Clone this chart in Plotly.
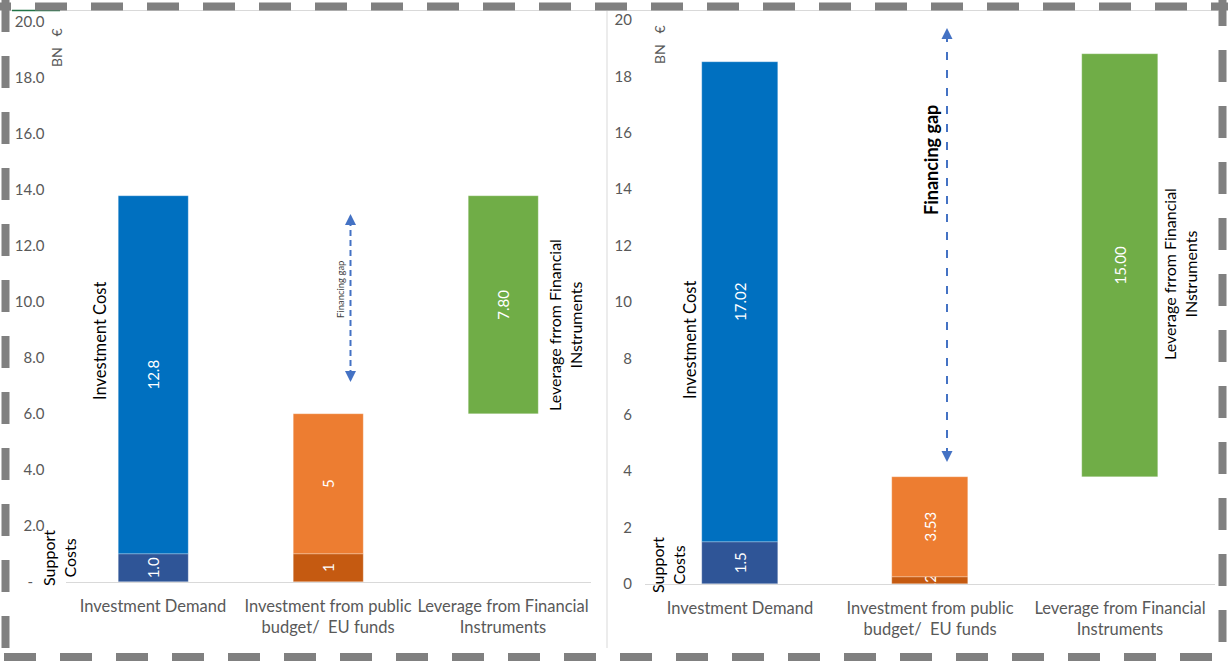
import plotly.graph_objects as go

W, H = 1228, 662

# ---------------- data ----------------
categories = ["Investment Demand", "Investment from public<br>budget/  EU funds", "Leverage from Financial<br>Instruments"]

# left chart
left_support = [1.0, 1.0]            # Investment Demand, public budget (lower segment)
left_support_text = ["1.0", "1"]
left_main = [12.8, 5.0, 7.8]         # investment cost, public budget, leverage
left_main_text = ["12.8", "5", "7.80"]

# right chart
right_support = [1.5, 0.25]
right_support_text = ["1.5", "0.25"]
right_main = [17.02, 3.53, 15.00]
right_main_text = ["17.02", "3.53", "15.00"]

left_ticks = [0, 2, 4, 6, 8, 10, 12, 14, 16, 18, 20]
left_ticktext = ["-\u00a0\u00a0\u00a0", "2.0", "4.0", "6.0", "8.0", "10.0", "12.0", "14.0", "16.0", "18.0", "20.0"]
right_ticks = [0, 2, 4, 6, 8, 10, 12, 14, 16, 18, 20]
right_ticktext = ["0", "2", "4", "6", "8", "10", "12", "14", "16", "18", "20"]

dark_colors = ["#2F5597", "#C55A11"]
main_colors = ["#0070C0", "#ED7D31", "#70AD47"]

FONT = "Lato"
GRAY = "#595959"


def px(x):
    return x / W


def py(y):
    return 1 - y / H


def bases_for(support, main):
    # upper segments sit on lower ones; leverage floats on public total
    return [support[0], support[1], support[1] + main[1]]


fig = go.Figure()

for (sup, sup_txt, main, main_txt, xa, ya) in [
    (left_support, left_support_text, left_main, left_main_text, "x", "y"),
    (right_support, right_support_text, right_main, right_main_text, "x2", "y2"),
]:
    fig.add_trace(go.Bar(
        x=categories[:2], y=sup, base=[0, 0], text=sup_txt,
        marker=dict(color=dark_colors, line=dict(color="rgba(255,255,255,0.5)", width=0.5)),
        width=0.4, textposition="inside", insidetextanchor="middle", textangle=-90,
        constraintext="none", cliponaxis=True,
        textfont=dict(color="white", size=15, family=FONT),
        xaxis=xa, yaxis=ya, showlegend=False, hoverinfo="skip",
    ))
    fig.add_trace(go.Bar(
        x=categories, y=main, base=bases_for(sup, main), text=main_txt,
        marker=dict(color=main_colors, line=dict(color="rgba(255,255,255,0.5)", width=0.5)),
        width=0.4, textposition="inside", insidetextanchor="middle", textangle=-90,
        constraintext="none", cliponaxis=True,
        textfont=dict(color="white", size=15, family=FONT),
        xaxis=xa, yaxis=ya, showlegend=False, hoverinfo="skip",
    ))

xcommon = dict(type="category", showgrid=False, zeroline=False, showline=True,
               linecolor="#D9D9D9", linewidth=1, ticks="", automargin=False,
               tickfont=dict(family=FONT, size=16.5, color=GRAY), ticklabelstandoff=9,
               range=[-0.5, 2.5], fixedrange=True)
ycommon = dict(range=[0, 20], showgrid=False, zeroline=False, showline=False, ticks="",
               automargin=False,
               tickfont=dict(family=FONT, size=15, color=GRAY), fixedrange=True)

fig.update_layout(
    width=W, height=H, autosize=False, margin=dict(l=0, r=0, t=0, b=0, pad=0, autoexpand=False),
    paper_bgcolor="white", plot_bgcolor="white",
    barmode="overlay", bargap=0,
    xaxis=dict(domain=[px(65.5), px(590.5)], anchor="y", **xcommon),
    yaxis=dict(domain=[py(582), py(22)], anchor="x", tickvals=left_ticks, ticktext=left_ticktext,
               ticklabelstandoff=20, **ycommon),
    xaxis2=dict(domain=[px(645), px(1215)], anchor="y2", **xcommon),
    yaxis2=dict(domain=[py(584), py(20)], anchor="x2", tickvals=right_ticks, ticktext=right_ticktext,
                ticklabelstandoff=12, **ycommon),
)

shapes = []
# thin chart-area borders
shapes.append(dict(type="line", xref="paper", yref="paper", x0=px(9), x1=px(1218), y0=py(10.5), y1=py(10.5),
                   line=dict(color="#D9D9D9", width=1)))
shapes.append(dict(type="line", xref="paper", yref="paper", x0=px(607), x1=px(607), y0=py(10.5), y1=py(648),
                   line=dict(color="#D9D9D9", width=1)))
shapes.append(dict(type="line", xref="paper", yref="paper", x0=px(12), x1=px(60), y0=py(10.5), y1=py(10.5),
                   line=dict(color="#217346", width=1.5)))
# outer dashed border
dash = "32px,24px"
bc = "#808080"
shapes.append(dict(type="line", xref="paper", yref="paper", x0=px(-21), x1=px(1240), y0=py(6.5), y1=py(6.5),
                   line=dict(color=bc, width=8, dash=dash)))
shapes.append(dict(type="line", xref="paper", yref="paper", x0=px(5.5), x1=px(5.5), y0=py(0), y1=py(670),
                   line=dict(color=bc, width=8, dash=dash)))
shapes.append(dict(type="line", xref="paper", yref="paper", x0=px(4), x1=px(1240), y0=py(657), y1=py(657),
                   line=dict(color=bc, width=8, dash=dash)))
shapes.append(dict(type="line", xref="paper", yref="paper", x0=px(1222.5), x1=px(1222.5), y0=py(-6), y1=py(650),
                   line=dict(color=bc, width=8, dash=dash)))
# financing gap arrows (dashed lines)
ARROW = "#4472C4"
shapes.append(dict(type="line", xref="paper", yref="paper", x0=px(350.5), x1=px(350.5), y0=py(220), y1=py(376),
                   line=dict(color=ARROW, width=2, dash="6px,4px")))
shapes.append(dict(type="line", xref="paper", yref="paper", x0=px(947), x1=px(947), y0=py(34), y1=py(456),
                   line=dict(color=ARROW, width=2, dash="8px,10px")))
fig.update_layout(shapes=shapes)

ann = []


def arrowhead(x, y, up):
    ann.append(dict(xref="paper", yref="paper", x=px(x), y=py(y), ax=0, ay=(12 if up else -12),
                    axref="pixel", ayref="pixel", text="", showarrow=True, arrowhead=2,
                    arrowsize=1.1, arrowwidth=2, arrowcolor=ARROW))


arrowhead(350.5, 214, True)
arrowhead(350.5, 382, False)
arrowhead(947, 28, True)
arrowhead(947, 462, False)


def label(text, x, y, size=15, color="black", angle=-90, bold=False):
    t = f"<b>{text}</b>" if bold else text
    ann.append(dict(xref="paper", yref="paper", x=px(x), y=py(y), text=t, showarrow=False,
                    textangle=angle, xanchor="center", yanchor="middle",
                    font=dict(family=FONT, size=size, color=color)))


# left chart labels
label("BN\u00a0\u00a0\u00a0€", 56, 48, size=14, color=GRAY)
label("Support<br>Costs", 59, 558, size=16)
label("Investment Cost", 100, 341, size=16.5)
label("Financing gap", 340, 290, size=9.5, color="#404040")
label("Leverage frrom Financial<br>INstruments", 565, 325, size=16)
# right chart labels
label("BN\u00a0\u00a0\u00a0€", 659, 45, size=14, color=GRAY)
label("Support<br>Costs", 668, 565, size=16)
label("Investment Cost", 690, 340, size=16.5)
label("Financing gap", 931, 160, size=18, bold=True)
label("Leverage frrom Financial<br>INstruments", 1180, 274, size=16)

fig.update_layout(annotations=ann)

fig.write_html("out.html")
